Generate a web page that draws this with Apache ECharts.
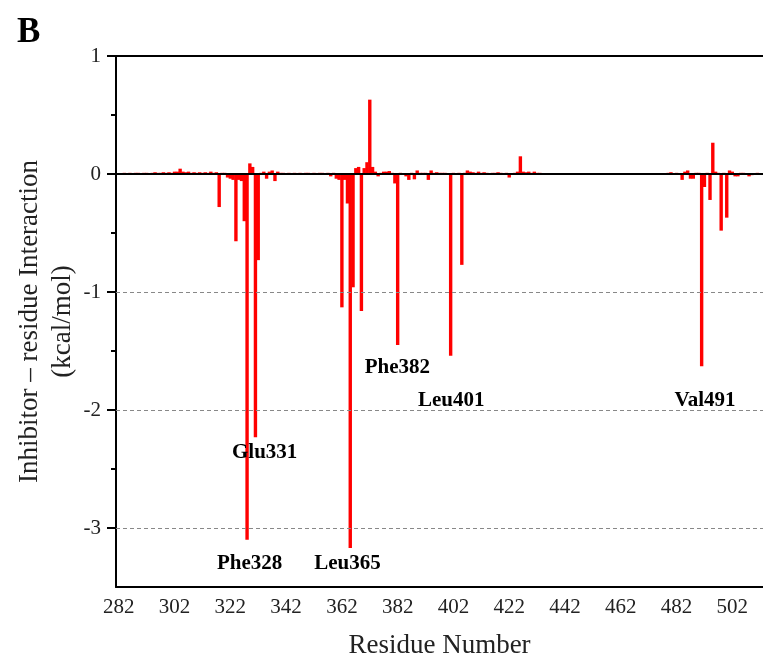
<!DOCTYPE html>
<html>
<head>
<meta charset="utf-8">
<script src="https://cdn.jsdelivr.net/npm/echarts@6/dist/echarts.min.js"></script>
<style>
  html, body { margin: 0; padding: 0; background: #fff; }
  #chart { width: 763px; height: 663px; }
</style>
</head>
<body>
<div id="chart"></div>
<script>
// residue number and inhibitor-residue interaction energy (kcal/mol)
const residues = [
  283, 284, 285, 286, 287, 288, 289, 290, 291, 292, 293, 294, 295, 296, 297, 298, 299, 300,
  301, 302, 303, 304, 305, 306, 307, 308, 309, 310, 311, 312, 313, 314, 315, 316, 317, 318,
  319, 320, 321, 322, 323, 324, 325, 326, 327, 328, 329, 330, 331, 332, 333, 334, 335, 336,
  337, 338, 339, 340, 341, 342, 343, 344, 345, 346, 347, 348, 349, 350, 351, 352, 353, 354,
  355, 356, 357, 358, 359, 360, 361, 362, 363, 364, 365, 366, 367, 368, 369, 370, 371, 372,
  373, 374, 375, 376, 377, 378, 379, 380, 381, 382, 383, 384, 385, 386, 387, 388, 389, 390,
  391, 392, 393, 394, 395, 396, 397, 398, 399, 400, 401, 402, 403, 404, 405, 406, 407, 408,
  409, 410, 411, 412, 413, 414, 415, 416, 417, 418, 419, 420, 421, 422, 423, 424, 425, 426,
  427, 428, 429, 430, 431, 432, 433, 434, 435, 436, 438, 440, 442, 444, 446, 448, 450, 452,
  454, 456, 458, 460, 462, 464, 466, 468, 470, 472, 474, 476, 478, 479, 480, 481, 482, 483,
  484, 485, 486, 487, 488, 489, 490, 491, 492, 493, 494, 495, 496, 497, 498, 499, 500, 501,
  502, 503, 504, 505, 506, 507, 508, 509, 510, 511, 512
]
const energies = [
  0.005, 0.01, 0.005, 0.01, 0.005, 0.01, 0.01, 0.005, 0.01, 0.01, 0.005, 0.01, 0.015, 0.01, 0.01, 0.015, 0.01, 0.015,
  0.01, 0.02, 0.02, 0.045, 0.02, 0.015, 0.02, 0.01, 0.015, 0.01, 0.015, 0.01, 0.015, 0.01, 0.02, 0.01, 0.015, -0.28,
  0.01, 0.01, -0.03, -0.04, -0.05, -0.57, -0.05, -0.06, -0.40, -3.10, 0.09, 0.06, -2.23, -0.73, 0.01, 0.02, -0.04, 0.02,
  0.03, -0.06, 0.02, 0.01, 0.01, 0.005, 0.01, 0.005, 0.01, 0.005, 0.01, 0.005, 0.01, 0.01, 0.005, 0.01, 0.005, 0.01,
  0.01, 0.005, 0.01, -0.02, 0.01, -0.04, -0.05, -1.13, -0.05, -0.25, -3.17, -0.96, 0.05, 0.06, -1.16, 0.05, 0.10, 0.63,
  0.06, 0.02, -0.02, 0.01, 0.02, 0.02, 0.025, 0.01, -0.08, -1.45, 0.01, 0.005, -0.02, -0.05, 0.01, -0.045, 0.03, 0.01,
  0.01, 0.01, -0.05, 0.03, 0.01, 0.015, 0.01, 0.01, 0.01, 0.005, -1.54, 0.01, 0.005, 0.01, -0.77, 0.01, 0.03, 0.02,
  0.015, 0.01, 0.02, 0.01, 0.015, 0.01, 0.005, 0.01, 0.01, 0.015, 0.01, 0.005, 0.01, -0.03, 0.005, 0.01, 0.02, 0.15,
  0.02, 0.015, 0.02, 0.01, 0.02, 0.01, 0.01, 0.005, 0.005, 0.005, 0.005, 0.004, 0.005, 0.004, 0.005, 0.004, 0.005, 0.004,
  0.005, 0.004, 0.005, 0.004, 0.005, 0.004, 0.005, 0.006, 0.005, 0.006, 0.008, 0.006, 0.008, 0.01, 0.015, 0.005, 0.01, 0.005,
  -0.05, 0.02, 0.03, -0.04, -0.04, 0.01, 0.01, -1.63, -0.11, 0.01, -0.22, 0.265, 0.02, 0.01, -0.48, 0.01, -0.37, 0.03,
  0.02, -0.02, -0.02, 0.01, 0.01, 0.005, -0.02, -0.01, 0.005, 0.01, 0.005
]
const xTickLabels = [282, 302, 322, 342, 362, 382, 402, 422, 442, 462, 482, 502]
const yTickLabels = [-3, -2, -1, 0, 1]
const yMinorTicks = [-2.5, -1.5, -0.5, 0.5]
const dashedLevels = [-1, -2, -3]
// key residues: name, residue position, energy position of the text
const keyNames = ['Phe328', 'Glu331', 'Leu365', 'Phe382', 'Leu401', 'Val491']
const keyResidues = [328.9, 334.3, 364.0, 381.9, 401.2, 492.2]
const keyEnergies = [-3.30, -2.36, -3.30, -1.64, -1.92, -1.92]

const font = 'Liberation Serif'

let chart = echarts.init(document.getElementById('chart'))

let barData = residues.map((r, i) => [r, energies[i]])
let keyData = keyNames.map((n, i) => ({ name: n, value: [keyResidues[i], keyEnergies[i]] }))

let markLines = dashedLevels.map(v => ({
  yAxis: v,
  lineStyle: { color: '#888', type: [4, 3], width: 1 }
}))
markLines.push({ yAxis: 0, lineStyle: { color: '#000', type: 'solid', width: 2 } })

let option = {
  animation: false,
  backgroundColor: '#fff',
  title: {
    text: 'B',
    left: 12,
    top: 10,
    textStyle: { fontFamily: font, fontSize: 35, fontWeight: 'bold', color: '#000' }
  },
  grid: { left: 116, right: 0, top: 56, bottom: 76, containLabel: false, outerBoundsMode: 'none' },
  xAxis: [{
    type: 'value',
    min: 281,
    max: 513,
    position: 'bottom',
    axisLine: { show: true, onZero: false, lineStyle: { color: '#000', width: 2 } },
    axisTick: { show: false },
    axisLabel: {
      customValues: xTickLabels,
      margin: 10,
      fontFamily: font,
      fontSize: 21,
      color: '#222'
    },
    splitLine: { show: false },
    name: 'Residue Number',
    nameLocation: 'middle',
    nameGap: 45,
    nameMoveOverlap: false,
    nameTextStyle: { fontFamily: font, fontSize: 27, color: '#222', verticalAlign: 'top' }
  }, {
    type: 'value',
    min: 281,
    max: 513,
    position: 'top',
    axisLine: { show: true, onZero: false, lineStyle: { color: '#000', width: 2 } },
    axisTick: { show: false },
    axisLabel: { show: false },
    splitLine: { show: false }
  }],
  yAxis: [{
    type: 'value',
    min: -3.5,
    max: 1,
    axisLine: { show: true, onZero: false, lineStyle: { color: '#000', width: 2 } },
    axisTick: { show: true, length: 9, customValues: yTickLabels, lineStyle: { color: '#000', width: 2 } },
    axisLabel: {
      customValues: yTickLabels,
      margin: 15,
      fontFamily: font,
      fontSize: 21,
      color: '#222'
    },
    splitLine: { show: false },
    name: 'Inhibitor \u2013 residue Interaction\n(kcal/mol)',
    nameLocation: 'middle',
    nameGap: 37,
    nameMoveOverlap: false,
    nameTextStyle: { fontFamily: font, fontSize: 27, lineHeight: 33, color: '#222' }
  }, {
    type: 'value',
    min: -3.5,
    max: 1,
    position: 'left',
    axisLine: { show: false },
    axisTick: { show: true, length: 5, customValues: yMinorTicks, lineStyle: { color: '#000', width: 2 } },
    axisLabel: { show: false },
    splitLine: { show: false }
  }],
  series: [{
    type: 'bar',
    xAxisIndex: 0,
    yAxisIndex: 0,
    data: barData,
    barWidth: 3.4,
    itemStyle: { color: '#ff0000' },
    markLine: {
      silent: true,
      symbol: 'none',
      label: { show: false },
      data: markLines
    }
  }, {
    type: 'scatter',
    xAxisIndex: 0,
    yAxisIndex: 0,
    data: keyData,
    symbolSize: 1,
    itemStyle: { color: 'rgba(0,0,0,0)', opacity: 1 },
    label: {
      show: true,
      position: 'inside',
      formatter: p => p.name,
      fontFamily: font,
      fontSize: 21,
      fontWeight: 'bold',
      color: '#000',
      opacity: 1,
      textBorderWidth: 0
    }
  }]
}

chart.setOption(option)
</script>
</body>
</html>
